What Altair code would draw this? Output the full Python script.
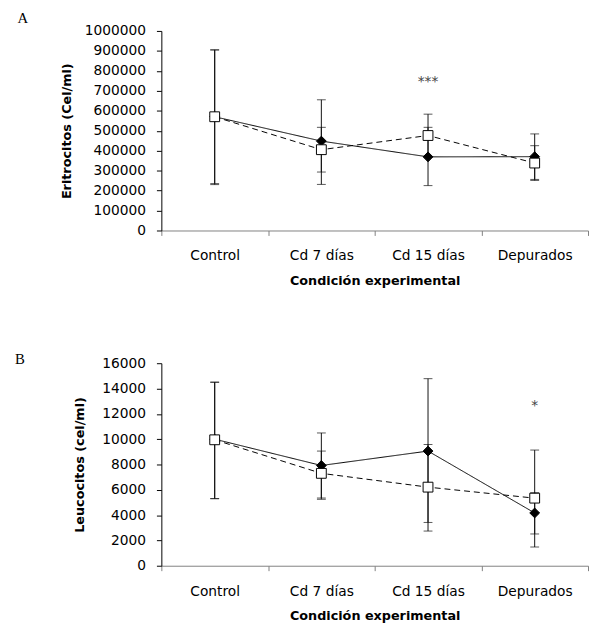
import altair as alt
import pandas as pd

categories = ["Control", "Cd 7 días", "Cd 15 días", "Depurados"]
series_names = ["Serie 1", "Serie 2"]  # solid line + filled diamond, dashed line + open square

# Panel A: Eritrocitos (Cel/ml)
a_diamond = [570000, 448000, 369000, 370000]
a_diamond_lo = [230000, 231000, 225000, 256000]
a_diamond_hi = [905000, 655000, 517000, 484000]
a_square = [570000, 405000, 476000, 338000]
a_square_lo = [235000, 293000, 369000, 251000]
a_square_hi = [905000, 517000, 583000, 425000]
a_ticks = list(range(0, 1000001, 100000))
a_annot_cat = ["Cd 15 días"]
a_annot_val = [762000]
a_annot_txt = ["***"]

# Panel B: Leucocitos (cel/ml)
b_diamond = [10000, 7920, 9060, 4170]
b_diamond_lo = [5300, 5350, 3420, 2510]
b_diamond_hi = [14500, 10490, 14780, 5770]
b_square = [9950, 7300, 6210, 5340]
b_square_lo = [5300, 5250, 2740, 1480]
b_square_hi = [14500, 9060, 9580, 9140]
b_ticks = list(range(0, 16001, 2000))
b_annot_cat = ["Depurados"]
b_annot_val = [12900]
b_annot_txt = ["*"]

panel_letters = ["A", "B"]

FONT = "DejaVu Sans"


def long_df(d, dlo, dhi, s, slo, shi):
    rows = []
    for i, c in enumerate(categories):
        rows.append({"cat": c, "series": series_names[0], "v": d[i], "lo": dlo[i], "hi": dhi[i]})
        rows.append({"cat": c, "series": series_names[1], "v": s[i], "lo": slo[i], "hi": shi[i]})
    return pd.DataFrame(rows)


def panel(df, ticks, ytitle, letter, letter_xy, ann, width, height, ytitle_pad):
    x = alt.X(
        "cat:N",
        sort=categories,
        scale=alt.Scale(domain=categories, paddingInner=0, paddingOuter=0),
        axis=alt.Axis(
            title="Condición experimental",
            labelAngle=0,
            tickBand="extent",
            domainColor="#808080",
            tickColor="#808080",
            tickSize=5,
            labelPadding=14,
            titlePadding=12,
        ),
    )
    yscale = alt.Scale(domain=[ticks[0], ticks[-1]], nice=False, zero=True)
    yaxis = alt.Axis(
        title=ytitle,
        values=ticks,
        tickCount=len(ticks),
        format="d",
        grid=False,
        labelOverlap=False,
        labelSeparation=0,
        domainColor="black",
        tickColor="black",
        tickSize=5,
        labelPadding=11,
        titlePadding=ytitle_pad,
    )

    def Y(field):
        return alt.Y(field, scale=yscale, axis=yaxis, title=ytitle)

    base = alt.Chart(df)
    dash = alt.StrokeDash(
        "series:N",
        scale=alt.Scale(domain=series_names, range=[[1, 0], [6, 4]]),
        legend=None,
    )
    lines = base.mark_line(color="black", strokeWidth=1).encode(
        x=x, y=Y("v:Q"), strokeDash=dash, detail="series:N"
    )
    rules = base.mark_rule(color="#111", strokeWidth=1).encode(
        x=x, y=Y("lo:Q"), y2="hi:Q"
    )
    cap_lo = base.mark_tick(color="#111", size=9, thickness=1).encode(
        x=x, y=Y("lo:Q")
    )
    cap_hi = base.mark_tick(color="#111", size=9, thickness=1).encode(
        x=x, y=Y("hi:Q")
    )
    pts = base.mark_point(filled=True, stroke="black", strokeWidth=1, size=100, opacity=1).encode(
        x=x,
        y=Y("v:Q"),
        shape=alt.Shape("series:N", scale=alt.Scale(domain=series_names, range=["diamond", "square"]), legend=None),
        fill=alt.Fill("series:N", scale=alt.Scale(domain=series_names, range=["black", "white"]), legend=None),
    )
    ann_df = pd.DataFrame({"cat": ann[0], "v": ann[1], "t": ann[2]})
    stars = alt.Chart(ann_df).mark_text(
        font=FONT, fontSize=14, color="#444444", baseline="alphabetic", dy=8
    ).encode(x=x, y=Y("v:Q"), text="t:N")
    let_df = pd.DataFrame({"t": [letter]})
    let = alt.Chart(let_df).mark_text(
        font="Liberation Serif", fontSize=15, color="black", baseline="middle", align="center"
    ).encode(x=alt.value(letter_xy[0]), y=alt.value(letter_xy[1]), text="t:N")
    return alt.layer(lines, rules, cap_lo, cap_hi, pts, stars, let).properties(width=width, height=height)


dfa = long_df(a_diamond, a_diamond_lo, a_diamond_hi, a_square, a_square_lo, a_square_hi)
dfb = long_df(b_diamond, b_diamond_lo, b_diamond_hi, b_square, b_square_lo, b_square_hi)

pa = panel(dfa, a_ticks, "Eritrocitos (Cel/ml)", panel_letters[0], (-141, -13),
           (a_annot_cat, a_annot_val, a_annot_txt), 434, 203, 11)
pb = panel(dfb, b_ticks, "Leucocitos (cel/ml)", panel_letters[1], (-144, -4),
           (b_annot_cat, b_annot_val, b_annot_txt), 434, 206, 16)

chart = alt.vconcat(pa, pb, spacing=66).properties(
    padding={"left": 6, "top": -2, "right": 0, "bottom": 0}
).configure_view(stroke=None).configure_axis(
    labelFont=FONT, labelFontSize=14, labelColor="black",
    titleFont=FONT, titleFontSize=13, titleFontWeight="bold", titleColor="black",
)

chart.save("out.html", embed_options={"renderer": "svg", "actions": False})
